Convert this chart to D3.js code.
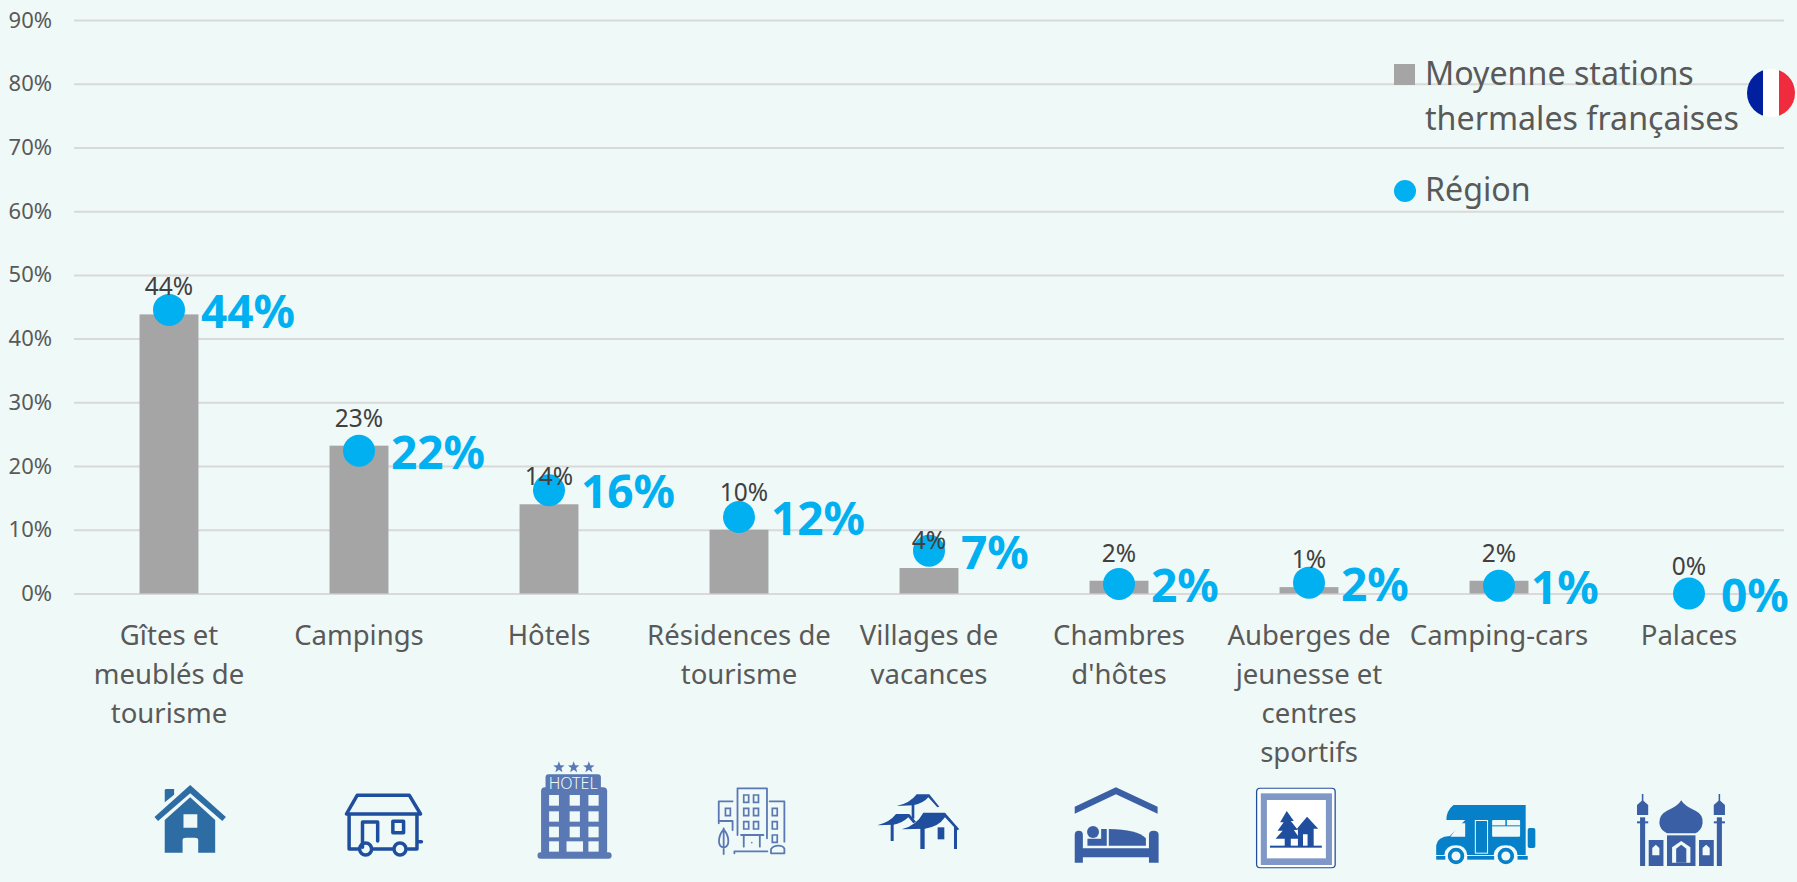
<!DOCTYPE html>
<html lang="fr"><head><meta charset="utf-8">
<style>html,body{margin:0;padding:0;background:#eff9f7;overflow:hidden}svg{display:block}text{font-family:"Noto Sans","Open Sans",sans-serif}</style>
<script src="https://cdn.jsdelivr.net/npm/d3@7/dist/d3.min.js"></script></head><body>
<script>
const categories = ["Gîtes et meublés de tourisme","Campings","Hôtels","Résidences de tourisme","Villages de vacances","Chambres d'hôtes","Auberges de jeunesse et centres sportifs","Camping-cars","Palaces"];
const categoryLines = [["Gîtes et","meublés de","tourisme"],["Campings"],["Hôtels"],["Résidences de","tourisme"],["Villages de","vacances"],["Chambres","d'hôtes"],["Auberges de","jeunesse et","centres","sportifs"],["Camping-cars"],["Palaces"]];
const franceValues = [43.8,23.2,14,10,4,2,1,2,0];
const franceLabels = ["44%","23%","14%","10%","4%","2%","1%","2%","0%"];
const regionValues = [44.5,22.4,16.2,12,6.7,1.5,1.7,1.2,0];
const regionLabels = ["44%","22%","16%","12%","7%","2%","2%","1%","0%"];
const yTicks = [0,10,20,30,40,50,60,70,80,90];
const legendBar = ["Moyenne stations","thermales françaises"];
const legendDot = "Région";

const W=1797,H=882;
const txtW=400;
const svg=d3.select("body").append("svg").attr("width",W).attr("height",H);
svg.append("rect").attr("width",W).attr("height",H).attr("fill","#eff9f7");
const x=d3.scaleBand().domain(categories).range([74,1784]).paddingInner(.69).paddingOuter(.345);
const y=d3.scaleLinear().domain([0,90]).range([593.5,20]);
const cx=c=>x(c)+x.bandwidth()/2;

const ax=svg.append("g").attr("transform","translate(74,0)")
  .call(d3.axisLeft(y).tickValues(yTicks).tickFormat(d=>d+"%").tickSize(-1710).tickPadding(22));
ax.select(".domain").remove();
ax.selectAll("line").attr("stroke","#d9d9d9").attr("stroke-width",2);
ax.selectAll("text").attr("fill","#595959").attr("font-size",22).attr("font-weight",txtW);

svg.selectAll(".bar").data(categories).join("rect").attr("class","bar")
  .attr("x",d=>x(d)).attr("width",x.bandwidth())
  .attr("y",(d,i)=>y(franceValues[i])).attr("height",(d,i)=>y(0)-y(franceValues[i])).attr("fill","#a5a5a5");

svg.selectAll(".dot").data(categories).join("circle").attr("class","dot")
  .attr("cx",cx).attr("cy",(d,i)=>y(regionValues[i])).attr("r",16).attr("fill","#00b0f0");

// the label of the fourth bar sits a little higher and to the right in the reference
svg.selectAll(".fl").data(categories).join("text").attr("class","fl")
  .attr("x",(d,i)=>cx(d)+(i===3?5:0)).attr("y",(d,i)=>y(franceValues[i])-(i===3?29:19)).attr("text-anchor","middle")
  .attr("font-size",24.5).attr("font-weight",txtW).attr("fill","#404040").text((d,i)=>franceLabels[i]);

svg.selectAll(".rl").data(categories).join("text").attr("class","rl")
  .attr("x",d=>cx(d)+32).attr("y",(d,i)=>y(regionValues[i])+18)
  .attr("font-size",46).attr("font-weight",700).attr("fill","#00b0f0").text((d,i)=>regionLabels[i]);

const cat=svg.selectAll(".cat").data(categories).join("text").attr("class","cat")
  .attr("text-anchor","middle").attr("font-size",27.5).attr("font-weight",txtW).attr("fill","#595959");
cat.each(function(d,i){
  d3.select(this).selectAll("tspan").data(categoryLines[i]).join("tspan")
    .attr("x",cx(d)).attr("y",(l,j)=>645+j*39).text(l=>l);
});

// legend
svg.append("rect").attr("x",1394).attr("y",64).attr("width",21).attr("height",21).attr("fill","#a5a5a5");
legendBar.forEach((t,i)=>svg.append("text").attr("x",1425).attr("y",85+i*45).attr("font-size",32.2).attr("font-weight",txtW).attr("fill","#595959").text(t));
svg.append("circle").attr("cx",1405).attr("cy",191).attr("r",11).attr("fill","#00b0f0");
svg.append("text").attr("x",1425).attr("y",201).attr("font-size",32.2).attr("font-weight",txtW).attr("fill","#595959").text(legendDot);

// flag
const defs=svg.append("defs");
defs.append("clipPath").attr("id","flagClip").append("circle").attr("cx",1771).attr("cy",93).attr("r",24);
const fl=svg.append("g").attr("clip-path","url(#flagClip)");
fl.append("rect").attr("x",1747).attr("y",69).attr("width",16).attr("height",48).attr("fill","#00209f");
fl.append("rect").attr("x",1763).attr("y",69).attr("width",16).attr("height",48).attr("fill","#ffffff");
fl.append("rect").attr("x",1779).attr("y",69).attr("width",16).attr("height",48).attr("fill","#ef2b3d");

const bgc="#eff9f7";
const k1=2.24,k2=1.967,ky=3;
const g1=svg.append("g").attr("transform",`translate(100,740) scale(${1/k1},${1/ky})`);
const g2=svg.append("g").attr("transform",`translate(1000,740) scale(${1/k2},${1/ky})`);
const g3=svg.append("g").attr("transform","translate(860,780) scale(.3333)");
const star=(cx,cy,r,kx)=>{let s="";for(let i=0;i<10;i++){const a=-Math.PI/2+i*Math.PI/5,q=i%2?r*.42:r;s+=(i?"L":"M")+(cx+q*kx*Math.cos(a)).toFixed(1)+","+(cy+q*ky*Math.sin(a)).toFixed(1);}return s+"Z";};
const P=(g,d,f,o={})=>{const p=g.append("path").attr("d",d).attr("fill",f);if(o.rule)p.attr("fill-rule",o.rule);if(o.s)p.attr("stroke",o.s).attr("stroke-width",o.w).attr("vector-effect","non-scaling-stroke").attr("stroke-linejoin","round").attr("stroke-linecap","round");return p;};
const R=(g,a,b,c,d,f)=>g.append("rect").attr("x",a).attr("y",b).attr("width",c-a).attr("height",d-b).attr("fill",f);
const E=(g,a,b,r,kx,f,s,w)=>{const e=g.append("ellipse").attr("cx",a).attr("cy",b).attr("rx",r*kx).attr("ry",r*ky).attr("fill",f);if(s)e.attr("stroke",s).attr("stroke-width",w).attr("vector-effect","non-scaling-stroke");return e;};
const RR=(g,a,b,c,d,r,kx,f)=>g.append("rect").attr("x",a).attr("y",b).attr("width",c-a).attr("height",d-b).attr("rx",r*kx).attr("ry",r*ky).attr("fill",f);

// house
const hc="#2e6ca4";
P(g1,"M122,231L202,135L282,231L274,243L202,160L130,243Z",hc);
P(g1,"M145,150Q145,147 149,147H166V164L145,187Z",hc);
P(g1,"M145,240L202,172L258,240V338H220V300Q220,293 212,293H193Q185,293 185,300V338H145ZM187,223V263H218V223Z",hc,{rule:"evenodd"});
// caravan
const cc="#1f4e9e",cw={s:cc,w:3.5};
P(g1,"M576,166H693L718,222H552Z","none",cw);
P(g1,"M558,225V327H578M612,327H655M690,327H710V225M710,305H720","none",cw);
P(g1,"M588,322V246H622V303","none",cw);
P(g1,"M656,244H680V278H656Z","none",cw);
E(g1,595,327,6,k1,"none",cc,3.5);
E(g1,672,327,6,k1,"none",cc,3.5);
// hotel
const hb="#5a78b4";
[1028,1061,1095].forEach(a=>P(g1,star(a,82,6,k1),hb));
RR(g1,998,103,1122,152,3,k1,hb);
RR(g1,988,142,1136,345,4,k1,hb);
RR(g1,980,337,1146,356,3,k1,hb);
svg.append("text").attr("x",100+1060/k1).attr("y",740+146/ky).attr("text-anchor","middle").attr("font-size",16).attr("font-weight",300).attr("fill",bgc).text("HOTEL");
[[165,197],[214,245],[260,292],[304,335]].forEach((r,ri)=>{
  [[1006,1028],[1052,1075],[1094,1117]].forEach((c,ci)=>{
    const c0=(ri===3&&ci===1)?1045:c[0],c1=(ri===3&&ci===1)?1082:c[1];
    R(g1,c0,r[0],c1,r[1],bgc);
  });
});
// residence
const rs={s:hb,w:1.8};
P(g1,"M1428,285V145H1494V295","none",rs);
P(g1,"M1386,250V184H1417M1500,184H1533V305","none",rs);
P(g1,"M1417,243H1386M1417,243V270","none",rs);
[[1442,165],[1464,165],[1442,205],[1464,205],[1442,245],[1464,245],[1401,205],[1506,205],[1506,245],[1506,285]].forEach(p=>{
  g1.append("rect").attr("x",p[0]).attr("y",p[1]).attr("width",11).attr("height",22).attr("fill","none").attr("stroke",hb).attr("stroke-width",1.7).attr("vector-effect","non-scaling-stroke");
});
P(g1,"M1397,342V265M1397,268C1383,290 1383,322 1397,322C1411,322 1411,290 1397,268Z","none",rs);
P(g1,"M1436,285H1486M1442,288V320M1478,288V320M1421,340V334H1495M1503,340H1533V326Q1530,317 1520,317Q1508,317 1503,328Z","none",rs);
E(g1,1460,308,.8,k1,hb);

// villages
const vl="#1f4e9e";
P(g3,"M110,78Q150,70 170,43H208L238,80L232,82L205,52Q190,70 160,76Z",vl);
R(g3,155,74,163,116,vl);
P(g3,"M52,136Q90,126 108,102H148L168,125L160,130L145,112Q125,131 100,134Z",vl);
R(g3,92,132,101,183,vl);
P(g3,"M125,148Q170,136 190,98H255L298,148L291,151L255,112Q235,141 195,146Z",vl);
R(g3,181,144,194,207,vl);
R(g3,282,138,291,207,vl);
R(g3,233,142,253,178,vl);

// bed
const bl="#3a5fa5",nv="#1f4e9e";
P(g2,"M147,200L228,142L310,200V221L228,163L147,221Z",bl);
P(g2,"M147,284Q147,272 155,272Q163,272 163,284V325H293V284Q293,272 302,272Q312,272 312,284V368H293V352H163V368H147Z",bl);
E(g2,183,276,6,k2,bl);
P(g2,"M214,267Q270,268 287,295V317H214Z",bl);
P(g2,"M172,296H199V267H210V317H172Z",bl);
// sign
RR(g2,503.5,143,660.5,385,4,k2,nv);
RR(g2,506,146,658,382,3,k2,"#ffffff");
R(g2,513,160,653,375,"#8098c8");
R(g2,525,180,641,355,"#ffffff");
P(g2,"M564,213L578,243L572,243L586,270L578,270L590,296L572,296V318H560V296L542,296L556,272L546,272L558,247L551,247Z",nv);
P(g2,"M604,230L626,266H617V318H605V283H596V318H586V268L584,266Z",nv);
R(g2,531,317,633,323,nv);
// camper
const cm="#0680c8";
P(g2,"M892,195H1034V345H1018Q1016,316 995,316Q973,316 971,345H919Q917,316 897,316Q876,316 874,345H858V316Q860,290 885,288L915,240H878Q878,212 892,195Z",cm);
P(g2,"M905,250H915V290H886Z",bgc);
RR(g2,1038,264,1053,324,2,k2,cm);
R(g2,858,348,876,359,cm);R(g2,919,348,972,359,cm);R(g2,1018,348,1038,359,cm);
R(g2,934,240,960,341,bgc);R(g2,936,243,958,338,cm);
RR(g2,968,240,1023,290,1,k2,bgc);
R(g2,968,256,1023,259,cm);R(g2,994,240,997,258,cm);
[[897,348],[995,348]].forEach(p=>{
  E(g2,p[0],p[1],9,k2,cm,bgc,1.5);
  E(g2,p[0],p[1],4.5,k2,bgc);
});
// mosque
P(g2,"M1340,181Q1346,198 1368,212Q1384,224 1382,250Q1380,272 1368,280H1312Q1298,270 1297,250Q1296,224 1312,212Q1334,198 1340,181Z",bl);
[1264,1415].forEach(a=>{
  R(g2,a-1.5,162,a+1.5,184,bl);
  P(g2,`M${a},180L${a+11},195V225H${a-11}V195Z`,bl);
  R(g2,a-5,232,a+5,378,bl);
  R(g2,a-11,244,a+11,250,bl);
});
R(g2,1276,300,1305,378,bl);R(g2,1375,300,1404,378,bl);
R(g2,1312,286,1368,378,bl);
[1290,1389].forEach(a=>P(g2,`M${a},314L${a+7},324V346H${a-7}V324Z`,bgc));
P(g2,"M1340,303L1358,322V368H1322V322Z",bgc);
P(g2,"M1340,314L1350,326V368H1330V326Z",bl);
</script>
</body></html>
